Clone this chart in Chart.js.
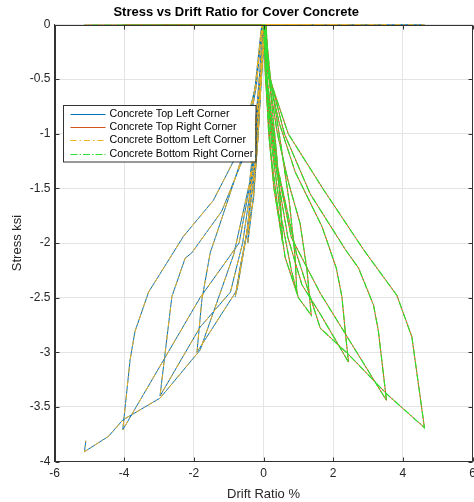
<!DOCTYPE html>
<html>
<head>
<meta charset="utf-8">
<script src="https://cdn.jsdelivr.net/npm/chart.js@4.4.0/dist/chart.umd.min.js"></script>
<style>
  html, body { margin: 0; padding: 0; background: #fff; }
  #wrap { width: 474px; height: 502px; }
</style>
</head>
<body>
<div id="wrap"><canvas id="stressChart" width="474" height="502"></canvas></div>
<script>
// Drift ratio (%) / stress (ksi) history
// left corners go to zero stress when drift is positive, right corners when negative
const leftCorner = [
  [0, 0], [0.55, 0], [0, 0],
  [-0.05, -0.4], [-0.15, -1.0], [-0.3, -1.6], [-0.45, -2.0],
  [-0.4, -1.6], [-0.25, -1.0], [-0.1, -0.4], [-0.03, 0],
  [0.96, 0], [0.05, 0],
  [-0.06, -0.5], [-0.2, -1.2], [-0.45, -1.85], [-0.81, -2.49],
  [-0.67, -2.22], [-0.48, -1.91], [-0.29, -1.61], [-0.15, -1.0], [-0.06, -0.4], [-0.02, 0],
  [1.37, 0], [0.05, 0],
  [-0.07, -0.5], [-0.25, -1.3], [-0.5, -1.95], [-0.76, -2.43], [-1.91, -3.0],
  [-1.77, -2.52], [-1.53, -2.09], [-1.15, -1.73], [-0.6, -1.2], [-0.2, -0.5], [-0.04, 0],
  [2.44, 0], [0.05, 0],
  [-0.08, -0.5], [-0.3, -1.35], [-0.6, -2.0], [-0.95, -2.45], [-1.82, -2.77], [-2.97, -3.4],
  [-2.87, -3.13], [-2.63, -2.49], [-2.25, -2.14], [-2.06, -2.09], [-1.2, -1.71], [-0.55, -1.2], [-0.2, -0.55], [-0.04, 0],
  [3.53, 0], [0.05, 0],
  [-0.09, -0.5], [-0.35, -1.4], [-0.7, -2.0], [-1.82, -2.5], [-4.04, -3.71],
  [-3.83, -3.07], [-3.69, -2.81], [-3.3, -2.45], [-2.3, -1.94], [-1.44, -1.61], [-0.7, -1.15], [-0.25, -0.6], [-0.05, 0],
  [4.62, 0], [0.05, 0],
  [-0.1, -0.5], [-0.4, -1.45], [-0.85, -2.1], [-1.82, -2.98], [-2.97, -3.42], [-4.04, -3.62],
  [-4.45, -3.77], [-5.14, -3.91], [-5.1, -3.81]
];

const rightCorner = [
  [0, 0], [0.05, -0.4], [0.15, -1.0], [0.3, -1.5], [0.55, -2.0],
  [0.5, -1.7], [0.38, -1.2], [0.2, -0.6], [0.03, 0],
  [-0.45, 0], [0.03, 0],
  [0.05, -0.45], [0.2, -1.15], [0.4, -1.65], [0.62, -2.13], [0.96, -2.46],
  [0.9, -2.1], [0.75, -1.65], [0.5, -1.1], [0.2, -0.5], [0.05, 0],
  [-0.81, 0], [0.04, 0],
  [0.06, -0.45], [0.25, -1.15], [0.5, -1.75], [0.8, -2.25], [1.0, -2.5], [1.37, -2.66],
  [1.25, -2.25], [1.05, -1.82], [0.72, -1.45], [0.4, -1.0], [0.13, -0.45], [0.05, 0],
  [-1.91, 0], [0.05, 0],
  [0.07, -0.45], [0.3, -1.2], [0.7, -1.95], [1.1, -2.38], [1.63, -2.65], [2.44, -3.09],
  [2.35, -2.82], [2.25, -2.49], [2.09, -2.23], [1.68, -1.85], [0.91, -1.35], [0.45, -0.9], [0.14, -0.45], [0.06, 0],
  [-2.97, 0], [0.06, 0],
  [0.08, -0.45], [0.35, -1.25], [0.8, -1.95], [1.63, -2.46], [3.53, -3.44],
  [3.3, -2.81], [3.16, -2.57], [2.73, -2.23], [2.35, -2.06], [1.34, -1.55], [0.6, -1.0], [0.16, -0.45], [0.07, 0],
  [-4.04, 0], [0.07, 0],
  [0.09, -0.45], [0.4, -1.3], [0.95, -2.1], [1.63, -2.78], [2.44, -3.02], [3.53, -3.38], [4.62, -3.69],
  [4.26, -2.86], [3.83, -2.48], [2.87, -2.06], [1.72, -1.51], [0.71, -1.0], [0.13, -0.45], [0.05, 0],
  [-5.14, 0]
];

const seriesNames = [
  'Concrete Top Left Corner',
  'Concrete Top Right Corner',
  'Concrete Bottom Left Corner',
  'Concrete Bottom Right Corner'
];

const xTicks = [-6, -4, -2, 0, 2, 4, 6];
const yTicks = [0, -0.5, -1, -1.5, -2, -2.5, -3, -3.5, -4];

const FONT = 'Liberation Sans, Arial, Helvetica, sans-serif';
const AXIS_COLOR = '#333333';
const DASH_DOT = [6, 3, 1.5, 3];
const DASH_DOT_GREEN = [7, 2, 1.5, 2];

const toPoints = arr => arr.map(p => ({ x: p[0], y: p[1] }));

function makeSet(label, pts, color, dash, order, width) {
  return {
    label: label,
    data: toPoints(pts),
    showLine: true,
    borderColor: color,
    backgroundColor: color,
    borderWidth: width,
    borderDash: dash,
    pointRadius: 0,
    pointHoverRadius: 0,
    tension: 0,
    order: order
  };
}

// matlab style box + inward tick marks
const boxPlugin = {
  id: 'boxPlugin',
  afterDatasetsDraw(chart) {
    const { ctx, chartArea: a, scales } = chart;
    ctx.save();
    ctx.strokeStyle = AXIS_COLOR;
    ctx.lineWidth = 1;
    ctx.setLineDash([]);
    const L = Math.round(a.left) + 0.5, R = Math.round(a.right) - 0.5;
    const T = Math.round(a.top) + 0.5, B = Math.round(a.bottom) - 0.5;
    ctx.strokeRect(L, T, R - L, B - T);
    const len = 4;
    ctx.beginPath();
    xTicks.forEach(v => {
      const px = Math.round(scales.x.getPixelForValue(v)) + 0.5;
      ctx.moveTo(px, B); ctx.lineTo(px, B - len);
      ctx.moveTo(px, T); ctx.lineTo(px, T + len);
    });
    yTicks.forEach(v => {
      const py = Math.round(scales.y.getPixelForValue(v)) + 0.5;
      ctx.moveTo(L, py); ctx.lineTo(L + len, py);
      ctx.moveTo(R, py); ctx.lineTo(R - len, py);
    });
    ctx.stroke();
    ctx.restore();
  }
};

// legend box inside the axes, upper left
const legendPlugin = {
  id: 'boxLegend',
  afterDraw(chart) {
    const { ctx, chartArea: a } = chart;
    const x0 = a.left + 8, y0 = a.top + 80.5;
    const w = 192.5, h = 56.5, rowH = 13.2;
    ctx.save();
    ctx.fillStyle = '#ffffff';
    ctx.fillRect(x0, y0, w, h);
    ctx.strokeStyle = '#333333';
    ctx.lineWidth = 1;
    ctx.strokeRect(Math.round(x0) + 0.5, Math.round(y0) + 0.5, w, h);
    ctx.font = '10.7px ' + FONT;
    ctx.textBaseline = 'middle';
    chart.data.datasets.forEach((ds, i) => {
      const cy = Math.round(y0 + 9 + i * rowH) + 0.5;
      ctx.strokeStyle = ds.borderColor;
      ctx.setLineDash(ds.borderDash || []);
      ctx.beginPath();
      ctx.moveTo(x0 + 8, cy);
      ctx.lineTo(x0 + 43, cy);
      ctx.stroke();
      ctx.setLineDash([]);
      ctx.fillStyle = '#000000';
      ctx.fillText(ds.label, x0 + 47, cy);
    });
    ctx.restore();
  }
};

const ctx = document.getElementById('stressChart').getContext('2d');
const stressChart = new Chart(ctx, {
  type: 'scatter',
  data: {
    datasets: [
      makeSet(seriesNames[0], leftCorner, '#0072BD', [], 3, 1),
      makeSet(seriesNames[1], rightCorner, '#D95319', [], 2, 1),
      makeSet(seriesNames[2], leftCorner, '#EDB120', DASH_DOT, 1, 1),
      makeSet(seriesNames[3], rightCorner, '#2FE02F', DASH_DOT_GREEN, 0, 1.2)
    ]
  },
  options: {
    responsive: false,
    animation: false,
    events: [],
    layout: { padding: { top: 0, right: 1.5, bottom: 0, left: 0 } },
    scales: {
      x: {
        type: 'linear',
        min: -6,
        max: 6,
        afterBuildTicks: s => { s.ticks = xTicks.map(v => ({ value: v })); },
        afterFit: s => { s.height = 40.5; s.paddingRight = 0; s.paddingLeft = 0; },
        ticks: {
          color: '#262626', font: { family: FONT, size: 12 }, padding: 5,
          callback: v => String(v)
        },
        grid: { color: '#e4e4e4', drawTicks: false },
        border: { color: AXIS_COLOR },
        title: {
          display: true,
          text: 'Drift Ratio %',
          color: '#262626',
          font: { family: FONT, size: 13 },
          padding: { top: 4.2, bottom: 0 }
        }
      },
      y: {
        type: 'linear',
        min: -4,
        max: 0,
        afterBuildTicks: s => { s.ticks = yTicks.map(v => ({ value: v })); },
        afterFit: s => { s.width = 54.5; },
        ticks: {
          color: '#262626', font: { family: FONT, size: 12 }, padding: 4,
          callback: v => String(v)
        },
        grid: { color: '#e4e4e4', drawTicks: false },
        border: { color: AXIS_COLOR },
        title: {
          display: true,
          text: 'Stress ksi',
          color: '#262626',
          font: { family: FONT, size: 13 },
          padding: { top: 9.2, bottom: 0 }
        }
      }
    },
    plugins: {
      legend: { display: false },
      tooltip: { enabled: false },
      title: {
        display: true,
        text: 'Stress vs Drift Ratio for Cover Concrete',
        color: '#000000',
        font: { family: FONT, size: 13, weight: 'bold' },
        padding: { top: 4.9, bottom: 4 }
      }
    }
  },
  plugins: [boxPlugin, legendPlugin]
});
</script>
</body>
</html>
